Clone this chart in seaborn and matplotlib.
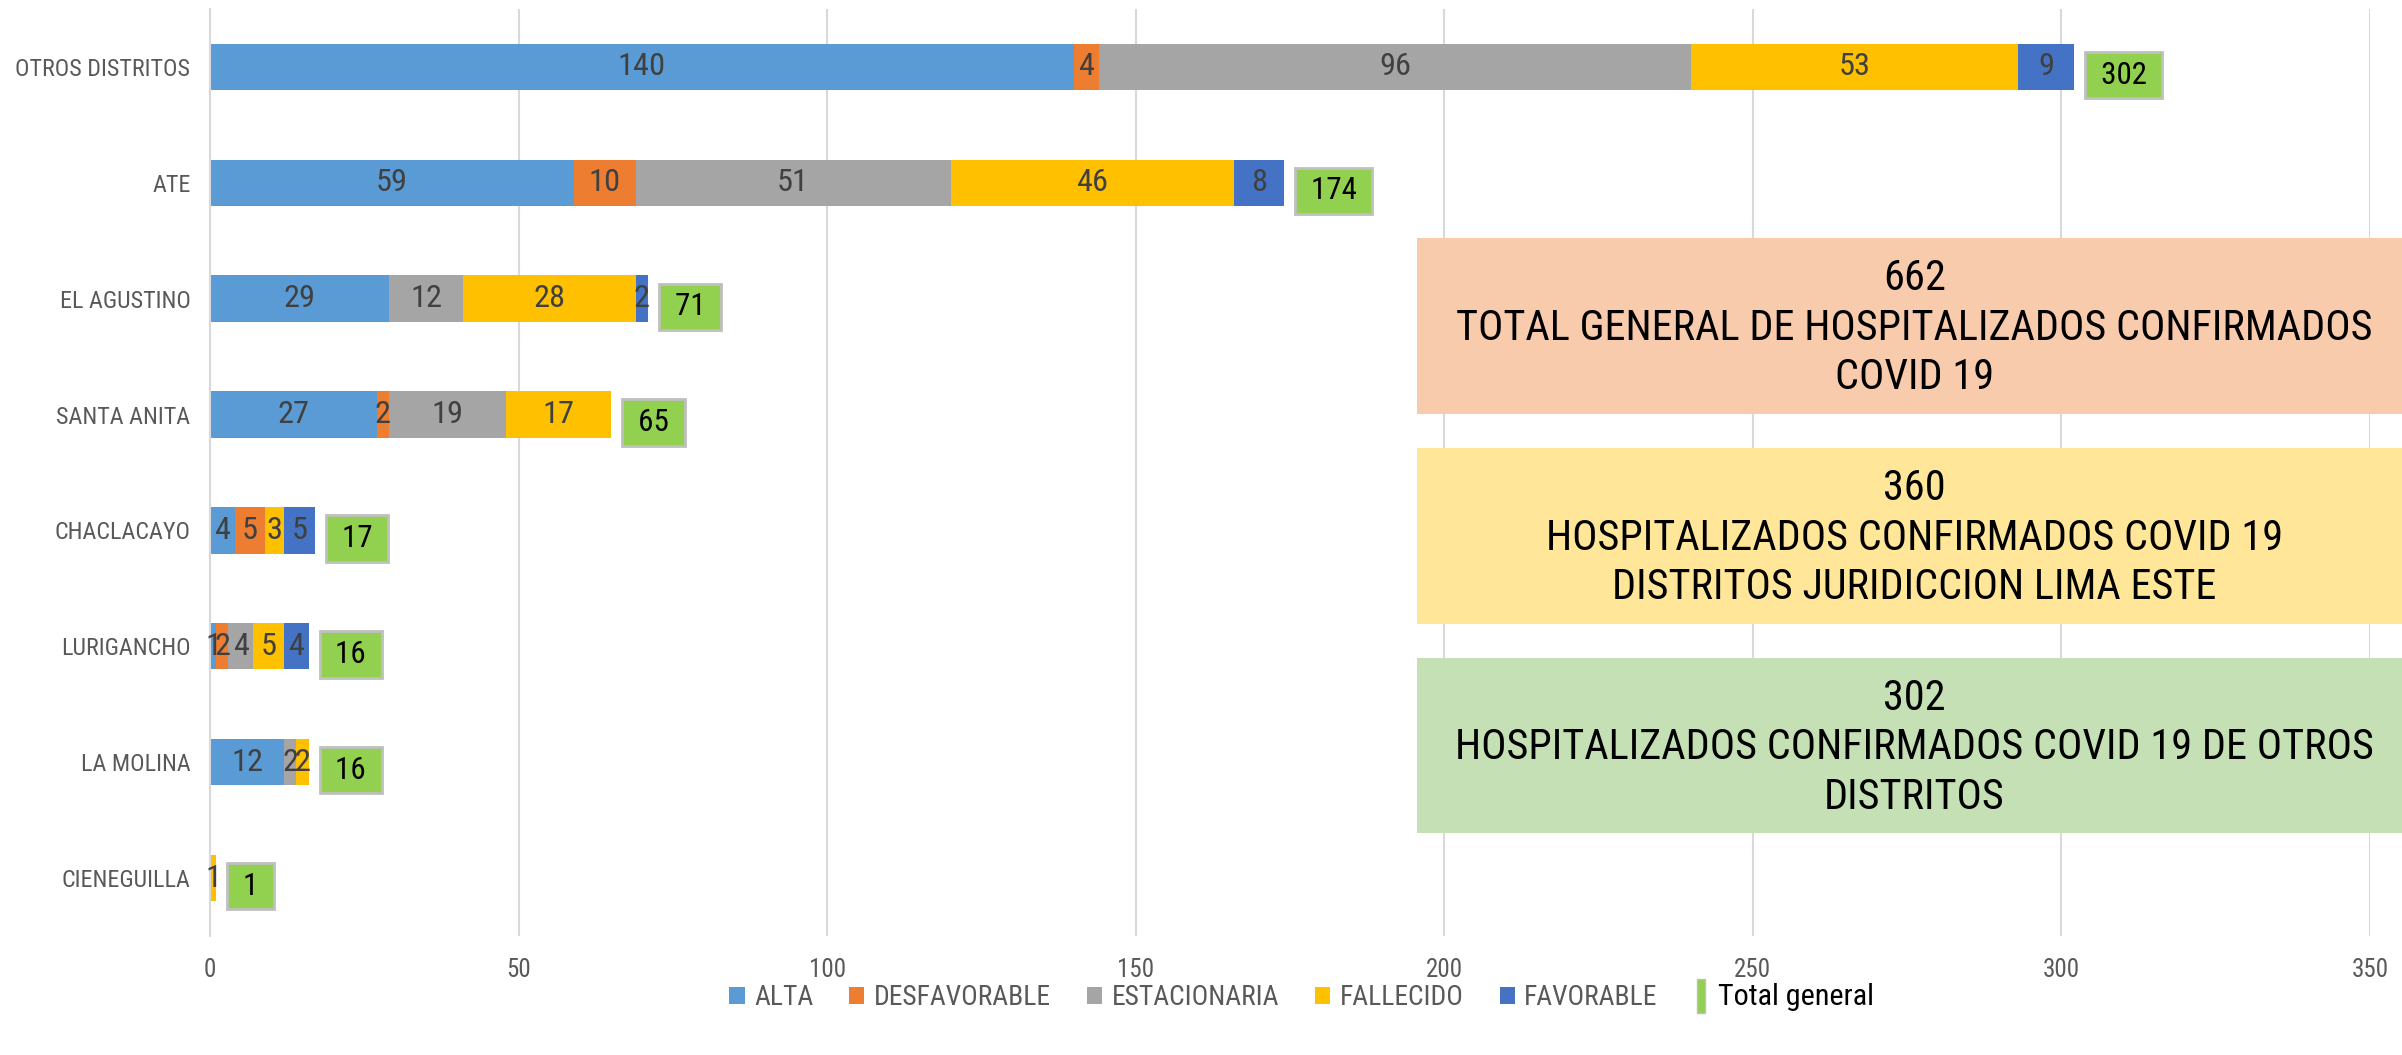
import matplotlib.pyplot as plt
import seaborn as sns
import numpy as np
import pandas as pd
from matplotlib.patches import Patch, Rectangle
from matplotlib.legend_handler import HandlerPatch

sns.set_style("white")
plt.rcParams['font.family'] = ['Roboto Condensed', 'Liberation Sans Narrow',
                               'DejaVu Sans Condensed', 'Liberation Sans', 'DejaVu Sans']

# DATA HERE
districts = ["OTROS DISTRITOS", "ATE", "EL AGUSTINO", "SANTA ANITA",
             "CHACLACAYO", "LURIGANCHO", "LA MOLINA", "CIENEGUILLA"]
series = ["ALTA", "DESFAVORABLE", "ESTACIONARIA", "FALLECIDO", "FAVORABLE"]
alta = [140, 59, 29, 27, 4, 1, 12, 0]
desfavorable = [4, 10, 0, 2, 5, 2, 0, 0]
estacionaria = [96, 51, 12, 19, 0, 4, 2, 0]
fallecido = [53, 46, 28, 17, 3, 5, 2, 1]
favorable = [9, 8, 2, 0, 5, 4, 0, 0]
total_general = [302, 174, 71, 65, 17, 16, 16, 1]

box_texts = ["662\nTOTAL GENERAL DE HOSPITALIZADOS CONFIRMADOS\nCOVID 19",
             "360\nHOSPITALIZADOS CONFIRMADOS COVID 19\nDISTRITOS JURIDICCION LIMA ESTE",
             "302\nHOSPITALIZADOS CONFIRMADOS COVID 19 DE OTROS\nDISTRITOS"]

colors = ["#5B9BD5", "#ED7D31", "#A5A5A5", "#FFC000", "#4472C4"]
total_color = "#92D050"
box_colors = ["#F8CBAD", "#FFE699", "#C5E0B4"]

df = pd.DataFrame({"district": districts, "ALTA": alta, "DESFAVORABLE": desfavorable,
                   "ESTACIONARIA": estacionaria, "FALLECIDO": fallecido,
                   "FAVORABLE": favorable})
cum = df[series].cumsum(axis=1)

fig = plt.figure(figsize=(24.02, 10.55), dpi=100)
renderer = fig.canvas.get_renderer()


def size_for(s, target_px):
    # font size so that the text s is target_px wide with the font we got
    t = fig.text(0, 0, s, fontsize=20)
    w = t.get_window_extent(renderer).width
    t.remove()
    return 20 * target_px / w


fs_cat = size_for("OTROS DISTRITOS", 175)
fs_seg = size_for("140", 48)
fs_tot = size_for("302", 46)
fs_xt = size_for("100", 37)
fs_leg = size_for("DESFAVORABLE", 177)
fs_leg_tot = size_for("Total general", 156)
fs_box = size_for("TOTAL GENERAL DE HOSPITALIZADOS CONFIRMADOS", 916)

ax = fig.add_axes([0.0874, 0.1128, 0.8993, 0.8787])

# stacked bars: draw cumulative sums from the outermost segment inwards
for s, c in reversed(list(zip(series, colors))):
    sns.barplot(x=cum[s], y=df["district"], color=c, width=0.4,
                orient="h", ax=ax, saturation=1, linewidth=0)

# segment labels
for i in range(len(districts)):
    start = 0
    for s in series:
        v = df[s][i]
        if v > 0:
            ax.text(start + v / 2, i, str(v), ha='center', va='center',
                    fontsize=fs_seg, color='#404040')
        start += v

# total labels
for i, t in enumerate(total_general):
    ax.text(t + 3.2, i + 0.07, f" {t} ", ha='left', va='center', fontsize=fs_tot,
            color='black',
            bbox=dict(boxstyle='square,pad=0.28', fc=total_color,
                      ec='#BFBFBF', lw=2))

ax.set_xlim(0, 350)
ax.set_ylim(7.5, -0.5)
ax.set_xticks(np.arange(0, 351, 50))
ax.grid(axis='x', color='#D9D9D9', lw=1.5)
ax.set_axisbelow(True)
for sp in ["top", "right", "bottom"]:
    ax.spines[sp].set_visible(False)
ax.spines["left"].set_color('#D9D9D9')
ax.spines["left"].set_linewidth(1.5)
ax.set_xlabel("")
ax.set_ylabel("")
ax.tick_params(axis='x', labelsize=fs_xt, labelcolor='#595959', length=0, pad=16)
ax.tick_params(axis='y', labelsize=fs_cat, labelcolor='#595959', length=0, pad=14)

# summary boxes
box_y = [0.608, 0.409, 0.210]
for y, txt, c in zip(box_y, box_texts, box_colors):
    fig.patches.append(Rectangle((0.590, y), 0.42, 0.166, transform=fig.transFigure,
                                 fc=c, ec='none', zorder=5))
    fig.text(0.797, y + 0.081, txt, ha='center', va='center', fontsize=fs_box,
             color='black', linespacing=1.27, zorder=6)


# legend, with a tall marker for the total
def tall_patch(legend, orig_handle, xdescent, ydescent, width, height, fontsize):
    return Rectangle((-xdescent + width * 0.25, -ydescent - height * 0.6),
                     width * 0.5, height * 2.1)


handles = [Patch(fc=c, ec='none') for c in colors]
tot_handle = Patch(fc=total_color, ec='#BFBFBF')
handles.append(tot_handle)
leg = fig.legend(handles, series + ["Total general"], loc='center',
                 bbox_to_anchor=(0.542, 0.055), ncol=6, frameon=False,
                 fontsize=fs_leg, handlelength=0.55, handleheight=0.55,
                 handletextpad=0.35, columnspacing=1.3,
                 handler_map={tot_handle: HandlerPatch(patch_func=tall_patch)})
for t in leg.get_texts()[:-1]:
    t.set_color('#595959')
leg.get_texts()[-1].set_fontsize(fs_leg_tot)
leg.get_texts()[-1].set_color('black')

fig.savefig("out.png", dpi=100)
